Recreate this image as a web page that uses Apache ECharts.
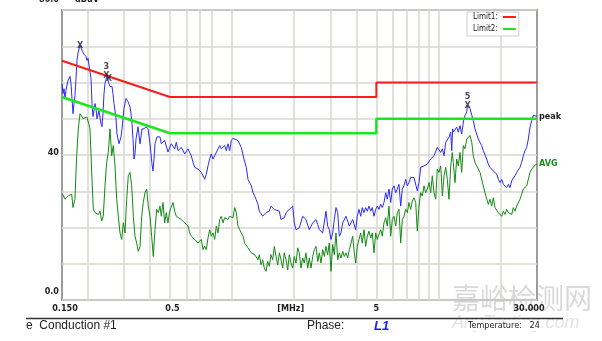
<!DOCTYPE html>
<html><head><meta charset="utf-8">
<script src="https://cdn.jsdelivr.net/npm/echarts@6/dist/echarts.min.js"></script>
<style>html,body{margin:0;padding:0;background:#fff}#c{width:602px;height:341px}</style>
</head><body><div id="c"></div>
<script>
// Peak trace [MHz, dBuV]
const peakTrace = [
[0.150,59.7],[0.1517,56.9],[0.1534,58.3],[0.1551,55.6],[0.1568,57.8],[0.1604,60.6],[0.1640,61.7],[0.1658,59.7],
[0.1677,55.6],[0.1696,51.4],[0.1715,54.2],[0.1733,56.4],[0.1754,61.1],[0.1773,66.1],[0.1793,68.1],[0.1834,70.3],
[0.1875,68.9],[0.1917,67.8],[0.1960,67.2],[0.1983,66.1],[0.2005,66.7],[0.2050,66.7],[0.2073,61.1],[0.2096,54.2],
[0.2120,50.6],[0.2167,54.2],[0.2192,52.8],[0.2216,50.0],[0.2266,52.2],[0.2318,48.6],[0.2343,47.8],[0.2369,51.4],
[0.2396,56.9],[0.2423,59.7],[0.2477,61.7],[0.2533,59.7],[0.2562,58.9],[0.2591,59.4],[0.2620,58.9],[0.2649,56.9],
[0.2679,54.2],[0.2709,52.2],[0.2739,50.0],[0.2770,45.8],[0.2833,43.1],[0.2897,45.0],[0.2929,47.2],[0.2962,50.0],
[0.2995,52.8],[0.3063,55.6],[0.3132,54.7],[0.3203,53.3],[0.3238,51.4],[0.3275,48.6],[0.3312,44.4],[0.3349,38.9],
[0.3386,40.3],[0.3424,44.4],[0.3502,47.8],[0.3581,43.1],[0.3661,47.2],[0.3744,47.2],[0.3829,47.8],[0.3915,47.2],
[0.4004,43.1],[0.4093,37.5],[0.4139,35.6],[0.4186,38.9],[0.4233,43.1],[0.4328,45.0],[0.4476,45.0],[0.4541,43.1],
[0.4716,44.0],[0.4893,40.8],[0.5076,43.1],[0.5273,41.7],[0.5367,43.5],[0.5470,41.2],[0.5675,42.1],[0.5895,40.3],
[0.6116,41.7],[0.6345,39.8],[0.6467,38.0],[0.6591,36.6],[0.6838,36.1],[0.7094,35.2],[0.7369,33.3],[0.7501,34.7],
[0.7645,37.0],[0.7792,38.9],[0.7931,40.3],[0.8084,38.9],[0.8239,39.8],[0.8547,41.7],[0.8712,42.6],[0.8868,41.7],
[0.9210,42.6],[0.9376,41.2],[0.9555,43.1],[0.9740,41.2],[0.9914,44.0],[1.010,44.6],[1.030,44.4],[1.068,44.0],
[1.108,42.1],[1.142,38.9],[1.172,36.6],[1.194,33.3],[1.217,32.4],[1.239,31.5],[1.263,29.6],[1.287,28.7],
[1.306,27.8],[1.335,26.4],[1.355,24.5],[1.407,23.1],[1.460,24.1],[1.515,24.5],[1.543,25.9],[1.602,25.0],
[1.632,25.5],[1.694,24.5],[1.726,22.2],[1.790,22.7],[1.825,24.1],[1.893,25.0],[1.966,25.9],[2.002,21.3],
[2.040,19.4],[2.117,19.9],[2.198,23.1],[2.280,22.2],[2.366,19.4],[2.458,21.3],[2.550,22.2],[2.600,20.8],
[2.646,19.4],[2.747,18.5],[2.850,24.5],[2.905,20.4],[2.957,19.4],[3.014,16.7],[3.072,18.5],[3.127,22.2],
[3.187,25.5],[3.249,24.1],[3.307,17.6],[3.370,18.5],[3.435,21.3],[3.563,23.1],[3.697,20.4],[3.840,22.2],
[3.970,19.4],[4.042,23.1],[4.119,25.0],[4.199,23.1],[4.273,25.5],[4.355,24.1],[4.438,25.5],[4.519,24.5],
[4.605,25.9],[4.693,24.5],[4.778,25.5],[4.870,23.1],[4.963,25.0],[5.052,25.9],[5.149,25.0],[5.248,26.4],
[5.342,25.5],[5.444,26.9],[5.548,29.6],[5.649,27.8],[5.756,30.6],[5.867,26.9],[5.972,30.6],[6.087,31.5],
[6.203,29.6],[6.315,30.6],[6.435,31.9],[6.559,25.9],[6.677,30.6],[6.804,31.5],[6.934,33.3],[7.060,31.5],
[7.194,32.4],[7.333,33.8],[7.465,34.3],[7.608,33.8],[7.753,33.3],[7.894,30.1],[8.044,32.4],[8.199,36.6],
[8.346,36.1],[8.506,37.0],[8.668,36.6],[8.825,37.5],[8.993,37.0],[9.166,38.9],[9.331,38.4],[9.509,39.8],
[9.690,40.3],[9.866,42.1],[10.05,41.7],[10.25,40.7],[10.44,41.7],[10.64,39.8],[10.84,43.5],[11.03,44.0],
[11.24,44.9],[11.46,46.3],[11.59,41.2],[11.71,47.2],[11.79,46.3],[12.02,46.8],[12.25,47.7],[12.47,46.3],
[12.71,48.1],[12.95,45.8],[13.19,49.1],[13.44,50.9],[13.70,51.9],[13.82,53.6],[14.21,52.8],[14.49,52.3],
[14.74,49.5],[15.02,47.2],[15.31,45.8],[15.59,44.4],[15.89,43.5],[16.19,42.6],[16.48,41.2],[17.11,38.9],
[17.42,37.5],[17.76,36.6],[18.43,35.6],[18.78,35.2],[19.14,34.7],[19.48,33.3],[19.86,32.4],[20.24,33.3],
[20.61,31.9],[21.00,32.4],[21.40,31.0],[21.79,31.9],[22.21,31.0],[22.63,32.9],[23.03,33.3],[23.47,34.3],
[23.92,35.2],[24.35,35.6],[24.82,36.6],[25.29,38.0],[25.75,39.8],[26.24,41.2],[26.75,42.1],[27.23,44.4],
[27.75,47.7],[28.28,49.5],[28.79,50.9],[29.34,51.4],[30.0,50.7]
];
// Average trace [MHz, dBuV]
const avgTrace = [
[0.1512,29.2],[0.1551,27.8],[0.1609,28.7],[0.1671,29.2],[0.1696,25.5],[0.1733,27.8],[0.1767,39.8],[0.1799,47.2],
[0.1834,51.4],[0.1869,50.9],[0.1902,50.0],[0.1976,50.5],[0.2012,49.1],[0.2050,47.2],[0.2089,35.2],[0.2127,25.0],
[0.2167,24.1],[0.2209,24.5],[0.2249,23.6],[0.2292,24.5],[0.2336,21.8],[0.2377,23.1],[0.2423,31.5],[0.2469,38.0],
[0.2514,40.7],[0.2562,47.2],[0.2611,39.8],[0.2658,42.6],[0.2709,37.0],[0.2761,27.8],[0.2811,23.1],[0.2865,18.5],
[0.2919,16.7],[0.2972,21.3],[0.3029,18.5],[0.3087,27.8],[0.3142,34.3],[0.3203,35.2],[0.3264,31.5],[0.3323,23.1],
[0.3386,17.6],[0.3451,15.7],[0.3513,13.4],[0.3581,14.8],[0.3649,23.1],[0.3714,26.9],[0.3785,29.6],[0.3858,30.6],
[0.3927,25.9],[0.4004,23.1],[0.4079,17.6],[0.4153,12.0],[0.4233,19.4],[0.4313,25.0],[0.4391,24.1],[0.4476,25.9],
[0.4541,23.1],[0.4627,26.9],[0.4716,21.3],[0.4801,24.1],[0.4893,21.3],[0.4987,24.5],[0.5076,24.1],[0.5173,26.9],
[0.5273,24.5],[0.5367,23.1],[0.5470,23.6],[0.5675,22.2],[0.5895,21.3],[0.6116,20.4],[0.6234,18.5],[0.6345,17.6],
[0.6467,18.1],[0.6591,16.7],[0.6838,15.7],[0.7094,16.7],[0.7230,13.9],[0.7369,14.8],[0.7501,13.9],[0.7645,17.1],
[0.7792,19.4],[0.7931,17.6],[0.8084,18.5],[0.8239,16.7],[0.8386,20.4],[0.8547,18.5],[0.8712,22.2],[0.8868,23.1],
[0.9037,21.3],[0.9210,22.7],[0.9555,22.2],[0.9740,23.1],[0.9914,23.6],[1.010,22.7],[1.030,25.5],[1.048,24.1],
[1.068,20.4],[1.089,19.4],[1.108,18.5],[1.130,17.6],[1.151,15.7],[1.172,16.2],[1.194,14.4],[1.217,14.8],
[1.239,13.0],[1.263,13.4],[1.287,12.5],[1.310,13.0],[1.335,11.1],[1.355,12.5],[1.381,9.7],[1.407,11.1],
[1.432,8.8],[1.460,7.9],[1.488,10.6],[1.515,9.3],[1.543,12.5],[1.573,11.1],[1.602,14.8],[1.632,12.0],
[1.664,9.7],[1.694,13.0],[1.726,11.1],[1.759,8.8],[1.790,13.0],[1.825,11.1],[1.860,8.3],[1.893,12.5],
[1.929,10.2],[1.966,8.8],[2.002,12.0],[2.040,10.2],[2.079,14.4],[2.117,13.0],[2.157,8.8],[2.198,11.6],
[2.238,10.2],[2.280,13.0],[2.325,8.8],[2.366,11.6],[2.411,8.8],[2.458,12.0],[2.502,13.9],[2.550,14.8],
[2.600,10.6],[2.646,13.0],[2.697,10.2],[2.747,13.9],[2.797,12.0],[2.850,14.8],[2.905,12.5],[2.957,15.7],
[3.014,7.9],[3.072,15.3],[3.127,12.5],[3.187,18.5],[3.249,11.1],[3.307,13.0],[3.370,11.6],[3.435,13.4],
[3.497,12.0],[3.563,13.0],[3.632,11.6],[3.697,13.9],[3.768,15.7],[3.840,17.6],[3.909,13.0],[3.970,10.2],
[4.042,14.8],[4.119,16.7],[4.199,18.5],[4.273,15.7],[4.355,19.4],[4.438,14.8],[4.519,17.6],[4.605,19.0],
[4.693,17.1],[4.778,18.5],[4.870,13.0],[4.963,18.5],[5.052,16.7],[5.149,18.1],[5.248,19.4],[5.342,17.6],
[5.444,21.3],[5.548,22.7],[5.649,20.4],[5.756,25.9],[5.867,17.6],[5.972,22.2],[6.087,23.1],[6.203,20.4],
[6.315,24.1],[6.435,25.0],[6.559,15.7],[6.677,22.2],[6.804,23.1],[6.934,25.0],[7.060,24.1],[7.194,26.9],
[7.333,25.0],[7.465,27.3],[7.608,28.2],[7.753,26.9],[7.894,19.0],[8.044,25.9],[8.199,29.6],[8.346,28.7],
[8.506,31.5],[8.668,29.6],[8.825,30.6],[8.993,32.4],[9.166,29.6],[9.331,34.3],[9.509,29.6],[9.690,27.8],
[9.866,36.1],[10.05,35.2],[10.25,37.0],[10.44,28.7],[10.64,34.3],[10.84,36.6],[11.03,33.3],[11.24,27.8],
[11.46,37.0],[11.66,40.7],[11.79,38.0],[12.02,32.4],[12.25,38.9],[12.47,37.0],[12.71,40.7],[12.95,35.2],
[13.19,42.6],[13.44,41.7],[13.70,44.4],[13.95,44.9],[14.21,45.4],[14.49,43.5],[14.74,39.8],[15.02,38.0],
[15.31,37.0],[15.89,35.2],[16.48,31.5],[16.79,29.6],[17.11,29.2],[17.42,26.4],[17.76,27.8],[18.10,25.9],
[18.43,28.2],[18.78,25.5],[19.14,25.9],[19.48,24.1],[19.86,24.5],[20.24,23.1],[20.61,24.5],[21.00,23.6],
[21.40,25.0],[21.79,24.1],[22.21,24.5],[22.63,23.6],[23.03,25.5],[23.47,24.5],[23.92,25.9],[24.35,26.4],
[24.82,27.8],[25.29,29.2],[25.75,30.6],[26.24,30.6],[26.75,31.5],[27.23,33.3],[27.75,35.2],[28.28,36.1],
[28.79,36.6],[29.34,37.2],[30.0,37.5]
];
const limit1 = [[0.15,66],[0.5,56],[5,56],[5,60],[30,60]];
const limit2 = [[0.15,56],[0.5,46],[5,46],[5,50],[30,50]];
const markerPoints = [[0.1834,70.3],[0.2462,61.9],[0.2533,61.1],[13.82,53.7]];
const markerNumbers = [[0.2462,61.9,'3'],[13.82,53.7,'5']];
const gridFreqs = [0.2,0.3,0.4,0.5,0.6,0.7,0.8,1,2,3,4,5,6,7,8,9,10,20];
const xLabelFreqs = [0.15,0.5,2,5,30];
const xLabelText = ['0.150','0.5','[MHz]','5','30.000'];
const yLabelValues = [0,40,80];
const yLabelText = ['0.0','40','80.0'];

const FONT = "'Liberation Sans Narrow','DejaVu Sans Condensed','Liberation Sans',Arial,sans-serif";
const chart = echarts.init(document.getElementById('c'), null, {renderer:'canvas'});
const xRich = ['a','b','c','d','e'];
chart.setOption({
  animation:false,
  backgroundColor:'#fff',
  grid:{left:62, top:10, width:475, height:290, show:true, borderColor:'#9c9c9c', borderWidth:2, backgroundColor:'transparent', containLabel:false, outerBoundsMode:'none'},
  legend:{
    data:['Limit1:','Limit2:'], orient:'vertical', left:467, top:12, align:'right',
    icon:'rect', itemWidth:13, itemHeight:2, itemGap:4, padding:[1,3,3,6],
    backgroundColor:'#fff', borderColor:'#cfcfcf', borderWidth:1, selectedMode:false,
    textStyle:{fontSize:8, color:'#222', width:40, fontFamily:FONT}
  },
  xAxis:{
    type:'log', logBase:10, min:0.15, max:30,
    axisLine:{show:false},
    axisTick:{show:false, customValues:gridFreqs},
    splitLine:{show:true, lineStyle:{color:'#dad6d1', width:1.5}},
    axisLabel:{
      customValues:xLabelFreqs, margin:4, fontSize:9, fontWeight:'bold', color:'#222', fontFamily:FONT,
      formatter:function(v){
        for (let i=0;i<xLabelFreqs.length;i++){ if (Math.abs(Math.log(v/xLabelFreqs[i]))<0.01) return '{'+xRich[i]+'|'+xLabelText[i]+'}'; }
        return '';
      },
      rich:{
        a:{padding:[0,0,0,6], fontSize:9, fontWeight:'bold', color:'#222', fontFamily:FONT},
        b:{padding:[0,0,0,5], fontSize:9, fontWeight:'bold', color:'#222', fontFamily:FONT},
        c:{padding:[0,7,0,0], fontSize:9, fontWeight:'bold', color:'#222', fontFamily:FONT},
        d:{fontSize:9, fontWeight:'bold', color:'#222', fontFamily:FONT},
        e:{padding:[0,16,0,0], fontSize:9, fontWeight:'bold', color:'#222', fontFamily:FONT}
      }
    }
  },
  yAxis:{
    type:'value', min:0, max:80, interval:10,
    name:'dBuV', nameLocation:'end', nameGap:10,
    nameTextStyle:{align:'left', verticalAlign:'middle', padding:[0,0,0,13], fontSize:9, fontWeight:'bold', color:'#222', fontFamily:FONT},
    axisLine:{show:false}, axisTick:{show:false},
    splitLine:{show:true, lineStyle:{color:'#dad6d1', width:1.5}},
    axisLabel:{
      margin:3, fontSize:9, fontWeight:'bold', color:'#222', fontFamily:FONT,
      formatter:function(v){
        const i = yLabelValues.indexOf(v);
        if (i<0) return '';
        return '{y'+i+'|'+yLabelText[i]+'}';
      },
      rich:{
        y0:{padding:[0,0,16,0], fontSize:9, fontWeight:'bold', color:'#222', fontFamily:FONT},
        y1:{padding:[0,0,4,0], fontSize:9, fontWeight:'bold', color:'#222', fontFamily:FONT},
        y2:{padding:[0,0,20,0], fontSize:9, fontWeight:'bold', color:'#222', fontFamily:FONT}
      }
    }
  },
  series:[
    {name:'peak', type:'line', data:peakTrace, symbol:'none', silent:true, z:2,
      lineStyle:{color:'#2a2aff', width:1}, itemStyle:{color:'#2a2aff'},
      endLabel:{show:true, formatter:'peak', distance:2, fontSize:9, fontWeight:'bold', color:'#222', fontFamily:FONT}},
    {name:'AVG', type:'line', data:avgTrace, symbol:'none', silent:true, z:2,
      lineStyle:{color:'#128a12', width:1}, itemStyle:{color:'#128a12'},
      endLabel:{show:true, formatter:'AVG', distance:2, fontSize:9, fontWeight:'bold', color:'#1a8a1a', fontFamily:FONT}},
    {name:'Limit1:', type:'line', data:limit1, symbol:'none', silent:true, z:3,
      lineStyle:{color:'#ff1a1a', width:2}, itemStyle:{color:'#ff1a1a'}},
    {name:'Limit2:', type:'line', data:limit2, symbol:'none', silent:true, z:3,
      lineStyle:{color:'#1ee61e', width:2.5}, itemStyle:{color:'#1ee61e'}},
    {name:'markers', type:'scatter', data:markerPoints, symbolSize:0, silent:true, z:5,
      label:{show:true, position:'inside', formatter:'X', fontSize:9, fontWeight:'bold', color:'#222', fontFamily:FONT}},
    {name:'markerNo', type:'scatter', data:markerNumbers, symbolSize:0, silent:true, z:5,
      label:{show:true, position:'top', distance:4, formatter:function(p){return p.value[2];}, fontSize:9, fontWeight:'bold', color:'#222', fontFamily:FONT}}
  ],
  graphic:[
    {type:'text', z:-10, left:452, top:284, style:{text:'嘉峪检测网', font:"28px 'Noto Sans CJK SC'", fill:'#d9d9d9'}},
    {type:'text', z:-10, left:452, top:314, style:{text:'AnyTesting.com', font:"italic 18px 'Liberation Sans'", fill:'#e4e4e4'}},
    {type:'line', shape:{x1:26, y1:318.5, x2:563, y2:318.5}, style:{stroke:'#333', lineWidth:1.5}},
    {type:'text', left:26, top:320, style:{text:'e  Conduction #1', font:"12px 'Liberation Sans'", fill:'#222'}},
    {type:'text', left:307, top:320, style:{text:'Phase:', font:"12px 'Liberation Sans'", fill:'#222'}},
    {type:'text', left:374, top:320, style:{text:'L1', font:"italic bold 13px 'Liberation Sans'", fill:'#1c1cff'}},
    {type:'text', left:466, top:320, style:{text:'Temperature:   24', font:"9px "+FONT, fill:'#222', backgroundColor:'#fff', padding:[1,2,1,2]}}
  ]
});
</script></body></html>
